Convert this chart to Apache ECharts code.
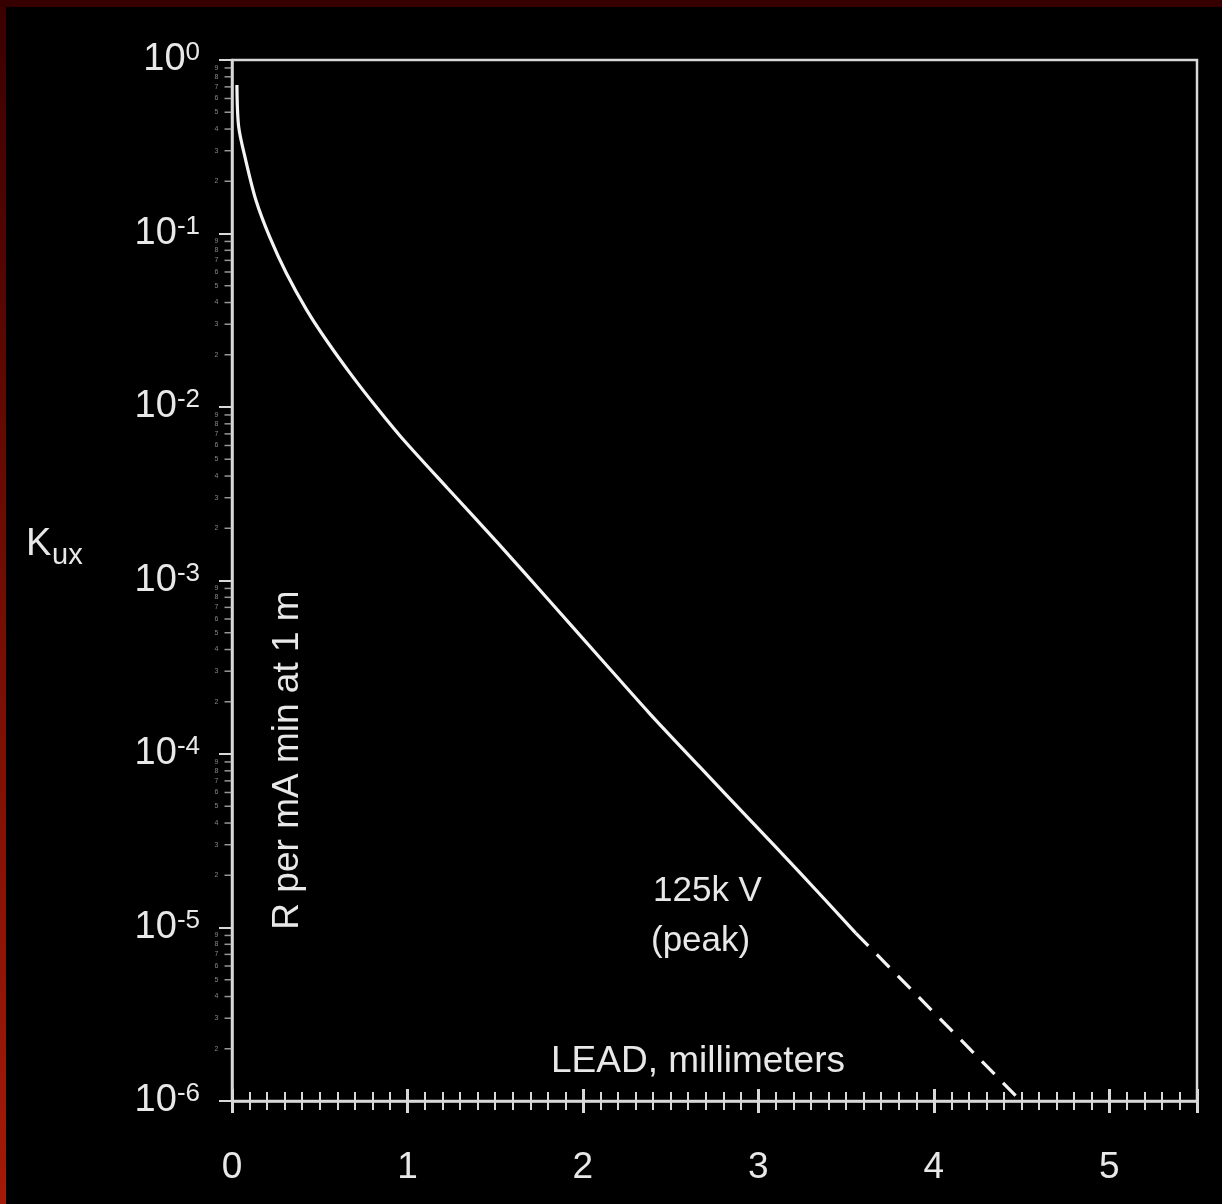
<!DOCTYPE html>
<html><head><meta charset="utf-8">
<script src="https://cdn.jsdelivr.net/npm/echarts@6/dist/echarts.min.js"></script>
<style>html,body{margin:0;padding:0;background:#000;}#c{width:1222px;height:1204px;}</style>
</head><body><div id="c"></div>
<script>
// Solid part of the 125 kV (peak) curve: lead thickness (mm) vs Kux (R per mA min at 1 m)
const leadMm = [0.028, 0.038, 0.078, 0.136, 0.214, 0.31, 0.426, 0.541, 0.679, 0.817, 0.962, 1.23, 1.517, 1.805, 2.092, 2.378, 2.665, 2.952, 3.239, 3.555];
const kux = [0.718, 0.413, 0.265, 0.156, 0.0959, 0.059, 0.0362, 0.02401, 0.01537, 0.01016, 0.006743, 0.003391, 0.001638, 0.000772, 0.0003637, 0.0001722, 0.0000845, 0.0000417, 0.0000206, 0.00000929];
// Dashed (extrapolated) part
const dashLeadMm = [3.555, 4.484];
const dashKux = [0.00000929, 0.00000103];
// Axis ticks
const xTickLabels = ['0', '1', '2', '3', '4', '5'];
const yDecades = [1e-6, 1e-5, 1e-4, 1e-3, 1e-2, 1e-1];
const yMinorMultipliers = [2, 3, 4, 5, 6, 7, 8, 9];

const FG = '#e8e8e8';
const FONT = '"Liberation Sans", Arial, Helvetica, sans-serif';

const minorTickData = [];
yDecades.forEach(d => yMinorMultipliers.forEach(m => minorTickData.push({ value: [0, m * d], name: String(m) })));

const chart = echarts.init(document.getElementById('c'), null, { renderer: 'canvas' });
const axisX = (extra) => Object.assign({
  type: 'value', min: 0, max: 5.5, interval: 1, position: 'bottom',
  splitLine: { show: false }, minorSplitLine: { show: false }
}, extra);

chart.setOption({
  backgroundColor: '#000',
  animation: false,
  textStyle: { fontFamily: FONT },
  grid: { left: 232, top: 60, width: 965, height: 1041, show: true, borderColor: '#d8d8d8', borderWidth: 2.5, backgroundColor: 'transparent' },
  xAxis: [
    axisX({
      axisLine: { lineStyle: { color: '#d8d8d8', width: 2.5 } },
      axisTick: { show: true, length: 12, lineStyle: { color: '#d8d8d8', width: 3 } },
      minorTick: { show: true, splitNumber: 10, length: 9, lineStyle: { color: '#d8d8d8', width: 2 } },
      axisLabel: {
        color: FG, fontSize: 37, fontFamily: FONT, margin: 48,
        formatter: v => (Number.isInteger(v) && xTickLabels[v] !== undefined) ? xTickLabels[v] : ''
      }
    }),
    axisX({
      axisLine: { show: false },
      axisTick: { show: true, inside: true, length: 12, lineStyle: { color: '#d8d8d8', width: 3 } },
      minorTick: { show: true, splitNumber: 10, length: 9, lineStyle: { color: '#d8d8d8', width: 2 } },
      axisLabel: { show: false }
    })
  ],
  yAxis: {
    type: 'log', logBase: 10, min: 1e-6, max: 1, splitNumber: 6,
    axisLine: { lineStyle: { color: '#d8d8d8', width: 2.5 } },
    axisTick: { show: true, length: 13, lineStyle: { color: '#d8d8d8', width: 2 } },
    splitLine: { show: false },
    axisLabel: {
      margin: 32, color: FG,
      formatter: v => '{b|10}{s|' + Math.round(Math.log10(v)) + '}',
      rich: {
        b: { fontSize: 38, lineHeight: 40, color: FG, fontFamily: FONT },
        s: { fontSize: 26, lineHeight: 26, verticalAlign: 'top', color: FG, fontFamily: FONT }
      }
    }
  },
  series: [
    {
      type: 'line', data: leadMm.map((x, i) => [x, kux[i]]),
      smooth: 0.3, showSymbol: false, symbol: 'none',
      lineStyle: { color: '#f4f4f4', width: 3.2 }, clip: false
    },
    {
      type: 'line', data: dashLeadMm.map((x, i) => [x, dashKux[i]]),
      showSymbol: false, symbol: 'none',
      lineStyle: { color: '#f4f4f4', width: 3.2, type: [18, 12] }, clip: false
    },
    {
      type: 'scatter', data: minorTickData, symbol: 'rect', symbolSize: [7, 1.5], symbolOffset: [-4, 0],
      itemStyle: { color: '#bdbdbd' }, clip: false, silent: true,
      label: { show: true, position: 'left', distance: 6, fontSize: 7, color: '#a8a8a8', formatter: p => p.name }
    }
  ],
  graphic: [
    { type: 'rect', left: 0, top: 0, shape: { width: 6, height: 1204 }, z: -1,
      style: { fill: new echarts.graphic.LinearGradient(0, 0, 0, 1, [{ offset: 0, color: '#3a0000' }, { offset: 0.45, color: '#6e0c02' }, { offset: 1, color: '#a31a08' }]) } },
    { type: 'rect', left: 0, top: 0, shape: { width: 1222, height: 7 }, z: -1, style: { fill: '#360000' } },
    { type: 'text', left: 26, top: 526, style: { text: 'K', fontSize: 38, fill: FG, fontFamily: FONT } },
    { type: 'text', left: 52, top: 541, style: { text: 'ux', fontSize: 29, fill: FG, fontFamily: FONT } },
    { type: 'text', x: 288, y: 760, rotation: Math.PI / 2,
      style: { text: 'R per mA min at 1 m', fontSize: 37, fill: FG, fontFamily: FONT, align: 'center', verticalAlign: 'middle' } },
    { type: 'text', x: 653, y: 891, style: { text: '125k V', fontSize: 35, fill: FG, fontFamily: FONT, align: 'left', verticalAlign: 'middle' } },
    { type: 'text', x: 651, y: 941, style: { text: '(peak)', fontSize: 35, fill: FG, fontFamily: FONT, align: 'left', verticalAlign: 'middle' } },
    { type: 'text', x: 698, y: 1062, style: { text: 'LEAD, millimeters', fontSize: 37, fill: FG, fontFamily: FONT, align: 'center', verticalAlign: 'middle' } }
  ]
});
</script></body></html>
